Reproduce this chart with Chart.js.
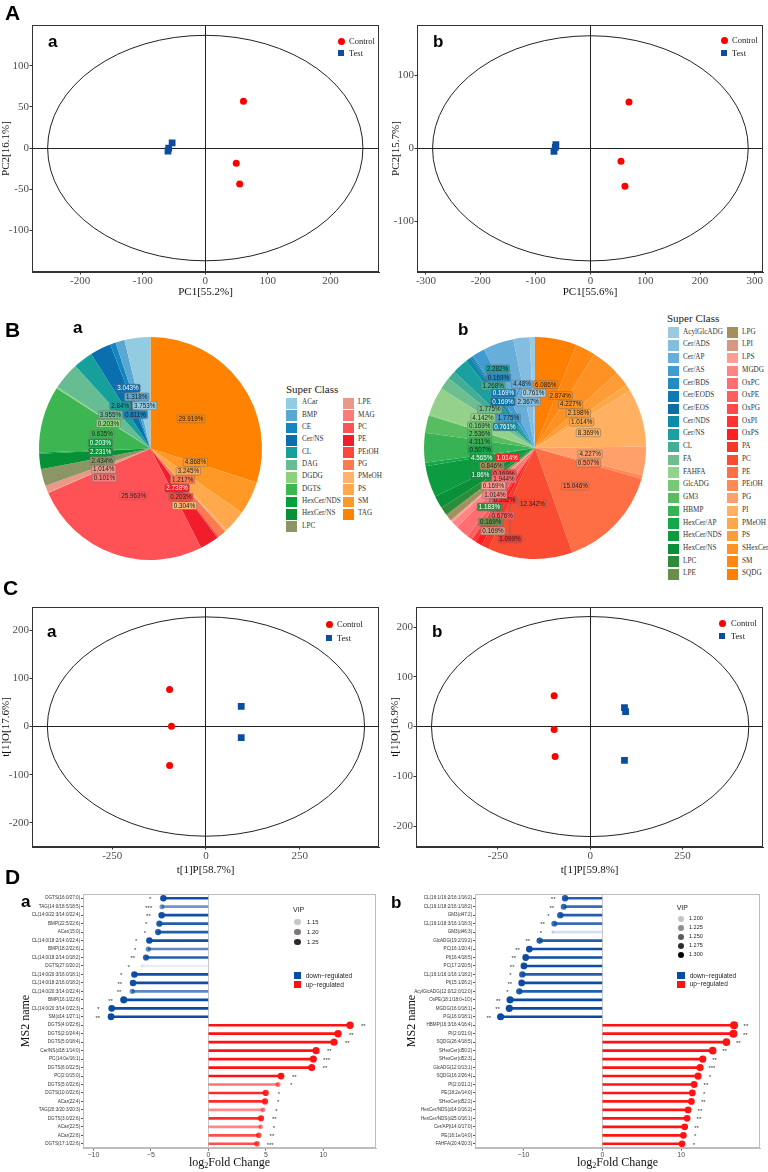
<!DOCTYPE html>
<html>
<head>
<meta charset="utf-8">
<title>Lipidomics figure</title>
<script src="https://cdn.jsdelivr.net/npm/chart.js@4.4.1/dist/chart.umd.min.js"></script>
<style>
  html, body { margin:0; padding:0; background:#fff; }
  #fig { position:relative; width:768px; height:1172px; overflow:hidden; background:#fff; }
  #fig canvas { position:absolute; }
  .t { position:absolute; white-space:nowrap; line-height:1; }
  .panel { font-family:"Liberation Sans", Arial, sans-serif; font-weight:bold; font-size:21px; color:#000; }
  .sub { font-family:"Liberation Sans", Arial, sans-serif; font-weight:bold; font-size:17px; color:#000; }
  .serif { font-family:"Liberation Serif", "Times New Roman", serif; }
  .sans { font-family:"Liberation Sans", Arial, sans-serif; }
  .mid { transform:translateY(-50%); }
</style>
</head>
<body>
<div id="fig">
  <canvas id="cAa" width="384" height="282" style="left:0px;top:18px"></canvas>
  <canvas id="cAb" width="384" height="282" style="left:384px;top:18px"></canvas>
  <canvas id="cBa" width="263" height="263" style="left:19px;top:317px"></canvas>
  <canvas id="cBb" width="262" height="262" style="left:404px;top:317px"></canvas>
  <canvas id="cCa" width="384" height="280" style="left:0px;top:600px"></canvas>
  <canvas id="cCb" width="384" height="280" style="left:384px;top:600px"></canvas>
  <canvas id="cDa" width="384" height="284" style="left:0px;top:888px"></canvas>
  <canvas id="cDb" width="384" height="284" style="left:384px;top:888px"></canvas>
</div>
<script>
// ================= DATA =================
// Panel A : PCA scores
const pcaAa_controlPC1 = [61, 49.5, 55];
const pcaAa_controlPC2 = [57, -18.4, -43.7];
const pcaAa_testPC1 = [-53, -58.5, -59.6];
const pcaAa_testPC2 = [6.4, 0, -3.6];
const pcaAa_ellipse = [252, 137];
const pcaAa_xTicks = [-200, -100, 0, 100, 200];
const pcaAa_yTicks = [-100, -50, 0, 50, 100];

const pcaAb_controlPC1 = [70.4, 55.8, 63];
const pcaAb_controlPC2 = [63.4, -17.6, -52];
const pcaAb_testPC1 = [-63, -66.5, -64];
const pcaAb_testPC2 = [5, -4, 1.4];
const pcaAb_ellipse = [288, 154];
const pcaAb_xTicks = [-300, -200, -100, 0, 100, 200, 300];
const pcaAb_yTicks = [-100, 0, 100];

// Panel B : super class composition (%)
const pieA_classes = ['ACar','BMP','CE','Cer/NS','CL','DAG','DGDG','DGTS','HexCer/NDS','HexCer/NS','LPC','LPE','MAG','PC','PE','PEtOH','PG','PMeOH','PS','SM','TAG'];
const pieA_percent = [3.753,1.318,0.811,3.043,2.84,3.955,0.203,9.635,0.203,2.231,2.434,1.014,0.101,25.963,2.738,0.203,1.217,0.304,3.245,4.868,29.919];
const pieA_colors = ['#93cbe0','#58a8d3','#1487c2','#0a6fad','#15a09b','#66bd93','#8dd17d','#3db550','#00a23b','#069136','#8c9665','#e89987','#fd7a7a','#ff5257','#f21d2a','#ff453b','#ff7b4f','#ffb26e','#ffa84c','#ff9824','#ff8200'];

const pieB_classes = ['AcylGlcADG','Cer/ADS','Cer/AP','Cer/AS','Cer/BDS','Cer/EODS','Cer/EOS','Cer/NDS','Cer/NS','CL','FA','FAHFA','GlcADG','GM3','HBMP','HexCer/AP','HexCer/NDS','HexCer/NS','LPC','LPE','LPG','LPI','LPS','MGDG','OxPC','OxPE','OxPG','OxPI','OxPS','PA','PC','PE','PEtOH','PG','PI','PMeOH','PS','SHexCer','SM','SQDG'];
const pieB_percent = [0.761,2.367,4.48,1.775,0.169,0.169,0.169,0.761,2.282,1.268,1.775,4.142,0.169,2.536,4.311,0.507,4.565,1.86,1.183,0.169,0.846,0.169,0.169,1.014,1.944,0.676,0.169,0.592,1.014,1.099,12.342,15.046,0.507,4.227,8.369,1.014,2.198,4.227,2.874,6.086];
const pieB_colors = ['#9ccae1','#84bde0','#67aedb','#3f9bd0','#238ac4','#0d79b5','#0a6ea5','#0d8ca7','#1aa09f','#43ad95','#6ebf8f','#94d28c','#78c976','#58bd60','#37b254','#14a84a','#0c9b3e','#0a9038','#2d8c3c','#6a8f4c','#a58f5a','#d89780','#ff9c94','#ff8585','#ff6e70','#ff5c5e','#ff4a4a','#ff3333','#ff1f1f','#f8372c','#fa4b33','#ff6f45','#ff8a55','#ffa06a','#ffb060','#ffa848','#ff9c35','#ff9222','#ff8712','#ff7f00'];

// Panel C : OPLS-DA scores
const oplsCa_controlT = [-97, -92, -97];
const oplsCa_controlO = [77, 0.6, -81];
const oplsCa_testT = [94, 94];
const oplsCa_testO = [42, -23];
const oplsCa_ellipse = [423, 228];
const oplsCa_xTicks = [-250, 0, 250];
const oplsCa_yTicks = [-200, -100, 0, 100, 200];

const oplsCb_controlT = [-97.6, -97.6, -95];
const oplsCb_controlO = [62, -6, -60];
const oplsCb_testT = [93, 96, 93];
const oplsCb_testO = [38, 30, -68];
const oplsCb_ellipse = [430, 221];
const oplsCb_xTicks = [-250, 0, 250];
const oplsCb_yTicks = [-200, -100, 0, 100, 200];

// Panel D : differential lipids (log2 fold change)
const diffDa_names = ['DGTS(16:0/27:0)','TAG(14:0/18:5/18:5)','CL(14:0/22:3/14:0/22:4)','BMP(22:5/22:6)','ACar(15:0)','CL(14:0/18:2/14:0/22:4)','BMP(18:2/22:6)','CL(14:0/18:2/14:0/18:2)','DGTS(27:0/20:2)','CL(14:0/20:3/16:0/18:1)','CL(14:0/18:2/16:0/18:2)','CL(14:0/20:3/14:0/22:4)','BMP(16:1/22:6)','CL(14:0/20:3/14:0/22:3)','SM(d14:1/27:1)','DGTS(4:0/22:6)','DGTS(2:0/24:4)','DGTS(5:0/18:4)','Cer/NS(d18:1/14:0)','PC(14:0e/16:1)','DGTS(6:0/22:5)','PC(2:0/15:0)','DGTS(5:0/22:6)','DGTS(10:0/22:6)','ACar(22:4)','TAG(20:3/20:3/20:3)','DGTS(3:0/22:6)','ACar(22:5)','ACar(22:6)','DGTS(17:1/22:6)'];
const diffDa_log2FC = [-3.91,-4.03,-4.06,-4.26,-4.37,-5.13,-5.22,-5.42,-5.77,-6.43,-6.55,-6.61,-7.36,-8.40,-8.46,12.32,11.28,10.93,9.37,9.13,8.99,6.32,6.06,4.99,4.93,4.76,4.58,4.55,4.38,4.23];
const diffDa_vip = [1.24,1.19,1.24,1.23,1.23,1.24,1.20,1.23,1.13,1.24,1.24,1.20,1.26,1.25,1.25,1.27,1.27,1.26,1.26,1.26,1.26,1.25,1.19,1.23,1.23,1.18,1.23,1.18,1.21,1.21];
const diffDa_sig = ['*','***','**','*','*','*','*','**','*','*','**','**','**','*','**','**','**','**','**','***','**','**','*','*','*','*','**','*','**','***'];
const diffDa_xTicks = [-10, -5, 0, 5, 10];

const diffDb_names = ['CL(16:1/16:2/16:1/16:2)','CL(16:1/18:2/16:1/18:2)','GM3(d47:2)','CL(16:1/18:3/16:1/18:3)','GM3(d46:3)','GlcADG(19:2/19:2)','PC(16:1/20:4)','PI(16:4/18:5)','PC(17:2/20:5)','CL(16:1/16:1/16:1/18:2)','PI(15:1/26:2)','AcylGlcADG(12:0/12:0/12:0)','OxPE(18:1/18:0+1O)','MGDG(16:0/18:1)','PG(16:0/18:1)','HBMP(16:3/16:4/16:4)','PI(2:0/21:0)','SQDG(26:4/18:5)','SHexCer(d50:2)','SHexCer(d52:3)','GlcADG(12:0/13:1)','SQDG(16:2/26:4)','PI(2:0/21:2)','PE(18:2e/14:0)','SHexCer(d52:2)','HexCer/NDS(d14:0/16:2)','HexCer/NDS(d25:0/16:1)','Cer/AP(t14:0/17:0)','PE(16:1e/14:0)','FAHFA(20:4/20:3)'];
const diffDb_log2FC = [-4.73,-4.90,-5.33,-6.09,-6.30,-7.95,-9.26,-9.72,-9.94,-10.15,-10.23,-10.53,-11.70,-11.80,-12.90,16.71,16.63,15.74,14.00,12.74,12.40,12.14,11.64,11.42,11.30,10.88,10.75,10.45,10.28,10.11];
const diffDb_vip = [1.27,1.26,1.27,1.26,1.19,1.27,1.28,1.28,1.28,1.27,1.28,1.27,1.29,1.29,1.29,1.31,1.31,1.30,1.30,1.29,1.29,1.29,1.28,1.28,1.28,1.28,1.28,1.28,1.28,1.28];
const diffDb_sig = ['**','**','*','**','*','**','**','**','**','*','**','*','**','**','**','**','**','**','**','**','***','*','**','*','**','**','**','**','*','*'];
const diffDb_xTicks = [-10, 0, 10];

// ================= HELPERS =================
const SERIF = '"Liberation Serif", "Times New Roman", serif';
const SANS = '"Liberation Sans", Arial, sans-serif';
const RED = '#ff0000';
const BLUE = '#0c4da2';
const fig = document.getElementById('fig');

function txt(text, x, y, cls, css) {
  const d = document.createElement('div');
  d.className = 't ' + (cls || '');
  d.textContent = text;
  d.style.left = x + 'px';
  d.style.top = y + 'px';
  if (css) Object.assign(d.style, css);
  fig.appendChild(d);
  return d;
}
function box(x, y, w, h, color, radius) {
  const d = document.createElement('div');
  d.className = 't';
  Object.assign(d.style, { left: x + 'px', top: y + 'px', width: w + 'px', height: h + 'px', background: color, borderRadius: radius || '0' });
  fig.appendChild(d);
}
function zeroLine(col) {
  return c => (c.tick && c.tick.value === 0) ? col : 'rgba(0,0,0,0)';
}
function fixedTicks(vals) {
  return s => { s.ticks = vals.map(v => ({ value: v })); };
}
function framePlugin(color) {
  return {
    id: 'frame',
    afterDatasetsDraw(chart) {
      const { ctx, chartArea: a } = chart;
      ctx.save();
      ctx.strokeStyle = color; ctx.lineWidth = 1;
      ctx.strokeRect(Math.round(a.left) + 0.5, Math.round(a.top) + 0.5, Math.round(a.right - a.left) - 1, Math.round(a.bottom - a.top) - 1);
      ctx.restore();
    }
  };
}
function ellipsePlugin(ell) {
  return {
    id: 'ellipse',
    beforeDatasetsDraw(chart) {
      const { ctx, scales: { x, y } } = chart;
      const cx = x.getPixelForValue(0), cy = y.getPixelForValue(0);
      const rx = Math.abs(x.getPixelForValue(ell[0]) - cx);
      const ry = Math.abs(y.getPixelForValue(ell[1]) - cy);
      ctx.save();
      ctx.beginPath(); ctx.ellipse(cx, cy, rx, ry, 0, 0, Math.PI * 2);
      ctx.strokeStyle = '#222'; ctx.lineWidth = 1; ctx.stroke();
      ctx.restore();
    }
  };
}

function makeScatter(id, P, L) {
  return new Chart(document.getElementById(id), {
    type: 'scatter',
    data: { datasets: [
      { label: 'Control', data: P.cx.map((x, i) => ({ x, y: P.cy[i] })), pointStyle: 'circle', pointRadius: 3.5, backgroundColor: RED, borderWidth: 0 },
      { label: 'Test', data: P.tx.map((x, i) => ({ x, y: P.ty[i] })), pointStyle: 'rect', pointRadius: 4.8, backgroundColor: BLUE, borderWidth: 0 }
    ]},
    options: {
      responsive: false, animation: false, devicePixelRatio: 1, events: [],
      layout: { padding: { top: L.padTop, right: L.padRight, left: 0, bottom: 0 } },
      plugins: { legend: { display: false }, tooltip: { enabled: false } },
      scales: {
        x: {
          type: 'linear', position: 'bottom', min: P.xr[0], max: P.xr[1],
          afterBuildTicks: fixedTicks(P.xTicks),
          afterFit: s => { s.height = L.xh; },
          ticks: { color: '#4d4d4d', font: { family: SERIF, size: 11 }, padding: 0, maxRotation: 0, autoSkip: false },
          grid: { color: zeroLine('#222'), tickColor: '#333', tickLength: 2.5, lineWidth: 1 },
          border: { color: '#333' },
          title: { display: true, text: P.xt, color: '#111', font: { family: SERIF, size: 11 }, padding: { top: 0, bottom: L.xtpb } }
        },
        y: {
          type: 'linear', position: 'left', min: P.yr[0], max: P.yr[1],
          afterBuildTicks: fixedTicks(P.yTicks),
          afterFit: s => { s.width = L.yw; },
          ticks: { color: '#4d4d4d', font: { family: SERIF, size: 11 }, padding: 0.5, autoSkip: false },
          grid: { color: zeroLine('#222'), tickColor: '#333', tickLength: 2.5, lineWidth: 1 },
          border: { color: '#333' },
          title: { display: true, text: P.yt, color: '#111', font: { family: SERIF, size: 11 }, padding: { top: L.ytpt, bottom: 0 } }
        }
      }
    },
    plugins: [ellipsePlugin(P.ell), framePlugin('#333')]
  });
}

function lum(hex) {
  const n = parseInt(hex.slice(1), 16);
  return (0.299 * ((n >> 16) & 255) + 0.587 * ((n >> 8) & 255) + 0.114 * (n & 255)) / 255;
}
function pieLabelPlugin(radiusFrac) {
  return {
    id: 'pieLabels',
    afterDatasetsDraw(chart) {
      const ctx = chart.ctx;
      const ds = chart.data.datasets[0];
      const arcs = chart.getDatasetMeta(0).data;
      const fs = 6.3;
      ctx.save();
      ctx.font = fs + 'px ' + SANS;
      const items = arcs.map((arc, i) => {
        const p = arc.getProps(['x', 'y', 'startAngle', 'endAngle', 'outerRadius'], true);
        const mid = (p.startAngle + p.endAngle) / 2;
        const r = p.outerRadius * radiusFrac;
        const ax = p.x + Math.cos(mid) * r, ay = p.y + Math.sin(mid) * r;
        const text = ds.data[i] + '%';
        return { ax, ay, x: ax, y: ay, w: ctx.measureText(text).width + 3, h: fs + 1.6, text, color: ds.backgroundColor[i] };
      });
      for (let it = 0; it < 400; it++) {
        for (let i = 0; i < items.length; i++) {
          for (let j = i + 1; j < items.length; j++) {
            const a = items[i], b = items[j];
            const ox = (a.w + b.w) / 2 + 1 - Math.abs(a.x - b.x);
            const oy = (a.h + b.h) / 2 + 1 - Math.abs(a.y - b.y);
            if (ox > 0 && oy > 0) {
              if (oy <= ox) { const s = (a.y <= b.y ? -1 : 1) * oy / 2; a.y += s; b.y -= s; }
              else { const s = (a.x <= b.x ? -1 : 1) * ox / 2; a.x += s; b.x -= s; }
            }
          }
        }
        items.forEach(o => { o.x += (o.ax - o.x) * 0.01; o.y += (o.ay - o.y) * 0.01; });
      }
      ctx.strokeStyle = '#6a6a6a'; ctx.lineWidth = 0.7;
      items.forEach(o => {
        if (Math.hypot(o.x - o.ax, o.y - o.ay) > 4) {
          ctx.beginPath(); ctx.moveTo(o.ax, o.ay); ctx.lineTo(o.x, o.y); ctx.stroke();
        }
      });
      ctx.textAlign = 'center'; ctx.textBaseline = 'middle';
      items.forEach(o => {
        ctx.beginPath();
        ctx.roundRect(o.x - o.w / 2, o.y - o.h / 2, o.w, o.h, 1.2);
        ctx.fillStyle = o.color; ctx.fill();
        ctx.strokeStyle = '#707070'; ctx.lineWidth = 0.5; ctx.stroke();
        ctx.fillStyle = lum(o.color) < 0.42 ? '#ffffff' : '#222222';
        ctx.fillText(o.text, o.x, o.y + 0.3);
      });
      ctx.restore();
    }
  };
}
function makePie(id, classes, values, colors, labelRadius) {
  return new Chart(document.getElementById(id), {
    type: 'pie',
    data: {
      labels: classes.slice().reverse(),
      datasets: [{ data: values.slice().reverse(), backgroundColor: colors.slice().reverse(), borderWidth: 0, hoverOffset: 0, offset: 0 }]
    },
    options: {
      responsive: false, animation: false, devicePixelRatio: 1, events: [],
      layout: { padding: 20 },
      plugins: { legend: { display: false }, tooltip: { enabled: false } }
    },
    plugins: [pieLabelPlugin(labelRadius)]
  });
}

function starsPlugin(values, sig, nudge, size) {
  return {
    id: 'stars',
    afterDatasetsDraw(chart) {
      const { ctx, scales: { x, y } } = chart;
      ctx.save();
      ctx.font = size + 'px ' + SANS;
      ctx.fillStyle = '#333'; ctx.textAlign = 'center'; ctx.textBaseline = 'middle';
      values.forEach((v, i) => {
        const px = x.getPixelForValue(v + (v < 0 ? -nudge : nudge));
        const py = y.getPixelForValue(i);
        ctx.fillText(sig[i], px, py + 1.2);
      });
      ctx.restore();
    }
  };
}
function makeLollipop(id, names, values, vip, sig, L) {
  const colors = values.map((v, i) => {
    const a = Math.max(0.08, Math.min(1, L.alpha(vip[i])));
    return v < 0 ? `rgba(11,75,163,${a.toFixed(3)})` : `rgba(255,18,18,${a.toFixed(3)})`;
  });
  return new Chart(document.getElementById(id), {
    type: 'bar',
    data: {
      labels: names,
      datasets: [
        { type: 'bar', indexAxis: 'y', data: values, backgroundColor: colors, borderWidth: 0, barThickness: 2, order: 2 },
        { type: 'bubble', indexAxis: 'x', data: values.map((v, i) => ({ x: v, y: names[i], r: L.radius(vip[i]) })), backgroundColor: colors, borderWidth: 0, order: 1 }
      ]
    },
    options: {
      indexAxis: 'y',
      responsive: false, animation: false, devicePixelRatio: 1, events: [],
      layout: { padding: { top: L.padTop, right: L.padRight, left: 0, bottom: 0 } },
      plugins: { legend: { display: false }, tooltip: { enabled: false } },
      scales: {
        x: {
          type: 'linear', position: 'bottom', min: L.xr[0], max: L.xr[1], offset: false,
          afterBuildTicks: fixedTicks(L.xTicks),
          afterFit: s => { s.height = L.xh; },
          ticks: { color: '#4d4d4d', font: { family: SANS, size: 7 }, padding: 0, maxRotation: 0, autoSkip: false,
                   callback: v => (v < 0 ? '\u2212' : '') + Math.abs(v) },
          grid: { offset: false, color: zeroLine('#c8c8c8'), tickColor: '#555', tickLength: 2.5, lineWidth: 1 },
          border: { color: '#bdbdbd' },
          title: { display: false }
        },
        y: {
          type: 'category', position: 'left', offset: true,
          afterFit: s => { s.width = L.yw; },
          ticks: { color: '#333', font: { family: SANS, size: 4.6 }, padding: 0.8, autoSkip: false },
          grid: { offset: false, drawOnChartArea: false, tickColor: '#555', tickLength: 2 },
          border: { color: '#bdbdbd' },
          title: { display: true, text: 'MS2 name', color: '#111', font: { family: SERIF, size: 12 }, padding: { top: L.ytpt, bottom: 0 } }
        }
      }
    },
    plugins: [starsPlugin(values, sig, L.nudge, 6), framePlugin('#bdbdbd')]
  });
}

// ================= PANEL A =================
makeScatter('cAa', {
  cx: pcaAa_controlPC1, cy: pcaAa_controlPC2, tx: pcaAa_testPC1, ty: pcaAa_testPC2,
  ell: pcaAa_ellipse, xr: [-277, 278], yr: [-150.6, 149.4], xTicks: pcaAa_xTicks, yTicks: pcaAa_yTicks,
  xt: 'PC1[55.2%]', yt: 'PC2[16.1%]'
}, { padTop: 5, padRight: 4, yw: 32, xh: 28, xtpb: 1.4, ytpt: 0 });

makeScatter('cAb', {
  cx: pcaAb_controlPC1, cy: pcaAb_controlPC2, tx: pcaAb_testPC1, ty: pcaAb_testPC2,
  ell: pcaAb_ellipse, xr: [-316.4, 315.3], yr: [-169.2, 168.6], xTicks: pcaAb_xTicks, yTicks: pcaAb_yTicks,
  xt: 'PC1[55.6%]', yt: 'PC2[15.7%]'
}, { padTop: 5, padRight: 3, yw: 33, xh: 28, xtpb: 1.4, ytpt: 5.4 });

// ================= PANEL B =================
makePie('cBa', pieA_classes, pieA_percent, pieA_colors, 0.45);
makePie('cBb', pieB_classes, pieB_percent, pieB_colors, 0.5);

function pieLegend(classes, colors, c) {
  txt('Super Class', c.titleX, c.titleY, 'serif mid', { fontSize: '11px', color: '#222' });
  classes.forEach((name, i) => {
    const col = i < c.perCol ? 0 : 1;
    const row = col ? i - c.perCol : i;
    const y = c.rowY0 + row * c.rowH;
    box(c.swX[col], y - c.sw / 2, c.sw, c.sw, colors[i]);
    txt(name, c.txX[col], y, 'serif mid', { fontSize: '7.2px', color: '#333' });
  });
}
pieLegend(pieA_classes, pieA_colors, { titleX: 286, titleY: 389, perCol: 11, rowY0: 403.3, rowH: 12.34, swX: [286, 343], txX: [302, 358], sw: 10.5 });
pieLegend(pieB_classes, pieB_colors, { titleX: 667, titleY: 318, perCol: 20, rowY0: 332.7, rowH: 12.72, swX: [668, 727], txX: [683, 742], sw: 10.5 });

// ================= PANEL C =================
makeScatter('cCa', {
  cx: oplsCa_controlT, cy: oplsCa_controlO, tx: oplsCa_testT, ty: oplsCa_testO,
  ell: oplsCa_ellipse, xr: [-464, 462], yr: [-250.5, 248.4], xTicks: oplsCa_xTicks, yTicks: oplsCa_yTicks,
  xt: 't[1]P[58.7%]', yt: 't[1]O[17.6%]'
}, { padTop: 6, padRight: 3, yw: 32, xh: 33, xtpb: 3.4, ytpt: 0 });

makeScatter('cCb', {
  cx: oplsCb_controlT, cy: oplsCb_controlO, tx: oplsCb_testT, ty: oplsCb_testO,
  ell: oplsCb_ellipse, xr: [-472, 469], yr: [-242, 240], xTicks: oplsCb_xTicks, yTicks: oplsCb_yTicks,
  xt: 't[1]P[59.8%]', yt: 't[1]O[16.9%]'
}, { padTop: 6, padRight: 2, yw: 32, xh: 33, xtpb: 3.4, ytpt: 5 });

// ================= PANEL D =================
makeLollipop('cDa', diffDa_names, diffDa_log2FC, diffDa_vip, diffDa_sig, {
  padTop: 6, padRight: 8, yw: 83, xh: 24, ytpt: 18.8, xr: [-10.9, 14.58], xTicks: diffDa_xTicks, nudge: 1.15,
  alpha: v => 0.1 + (v - 1.13) * 8, radius: v => 1.6 + (v - 1.13) * 15
});
makeLollipop('cDb', diffDb_names, diffDb_log2FC, diffDb_vip, diffDb_sig, {
  padTop: 6, padRight: 8, yw: 91, xh: 24, ytpt: 20.8, xr: [-16.15, 20.0], xTicks: diffDb_xTicks, nudge: 1.5,
  alpha: v => 0.18 + (v - 1.19) * 9, radius: v => 1.5 + (v - 1.19) * 21
});

// x-axis titles with subscript
[[229.5], [617.5]].forEach(([cx]) => {
  const d = txt('', cx, 1163, 'serif', { fontSize: '12px', color: '#111', transform: 'translate(-50%,-50%)' });
  d.innerHTML = 'log<sub style="font-size:8px;vertical-align:-2px">2</sub>Fold Change';
});

// ================= LEGENDS / LABELS (HTML) =================
function scatterLegend(x, yC, yT, textX) {
  box(x - 3.5, yC - 3.5, 7, 7, RED, '50%');
  txt('Control', textX, yC, 'serif mid', { fontSize: '8.5px', color: '#222' });
  box(x - 3.4, yT - 3.4, 6.8, 6.8, BLUE);
  txt('Test', textX, yT, 'serif mid', { fontSize: '8.5px', color: '#222' });
}
scatterLegend(341, 41, 53, 349);
scatterLegend(724, 40, 53, 732);
scatterLegend(329, 624, 638, 337);
scatterLegend(722, 623, 636, 731);

function vipLegend(c) {
  txt('VIP', c.x, c.titleY, 'sans mid', { fontSize: '7px', color: '#222' });
  c.labels.forEach((lab, i) => {
    box(c.cx - c.r, c.ys[i] - c.r, c.r * 2, c.r * 2, c.cols[i], '50%');
    txt(lab, c.tx, c.ys[i], 'sans mid', { fontSize: c.fs + 'px', color: '#222' });
  });
  box(c.swX, c.swY[0], c.swW, 7, '#0b4ba3');
  box(c.swX, c.swY[1], c.swW, 7, '#ff1212');
  txt('down\u2212regulated', c.swTx, c.swY[0] + 3.5, 'sans mid', { fontSize: '6.5px', color: '#222' });
  txt('up\u2212regulated', c.swTx, c.swY[1] + 3.5, 'sans mid', { fontSize: '6.5px', color: '#222' });
}
vipLegend({ x: 293, titleY: 909, cx: 297.7, r: 3.3, ys: [922, 932, 942], cols: ['#c9c5c3', '#7d7674', '#2e2a2a'], labels: ['1.15', '1.20', '1.25'], tx: 307, fs: 6,
  swX: 294, swY: [972, 981], swW: 7.3, swTx: 305.7 });
vipLegend({ x: 676.7, titleY: 906.7, cx: 681.3, r: 3, ys: [918.7, 927.7, 936.7, 946, 955.3], cols: ['#c7c3c1', '#928c8a', '#5f5858', '#2e2a2a', '#000000'], labels: ['1.200', '1.225', '1.250', '1.275', '1.300'], tx: 689, fs: 5.5,
  swX: 677, swY: [972, 980.7], swW: 8, swTx: 689.7 });

// panel letters
txt('A', 5, 2.2, 'panel');
txt('a', 48, 32.6, 'sub');
txt('b', 433, 32.6, 'sub');
txt('B', 5, 319, 'panel');
txt('a', 73, 319, 'sub');
txt('b', 458, 320.6, 'sub');
txt('C', 3, 577, 'panel');
txt('a', 47, 622.6, 'sub');
txt('b', 432, 622.6, 'sub');
txt('D', 5, 866, 'panel');
txt('a', 21, 892.6, 'sub');
txt('b', 391, 893.6, 'sub');
</script>
</body>
</html>
